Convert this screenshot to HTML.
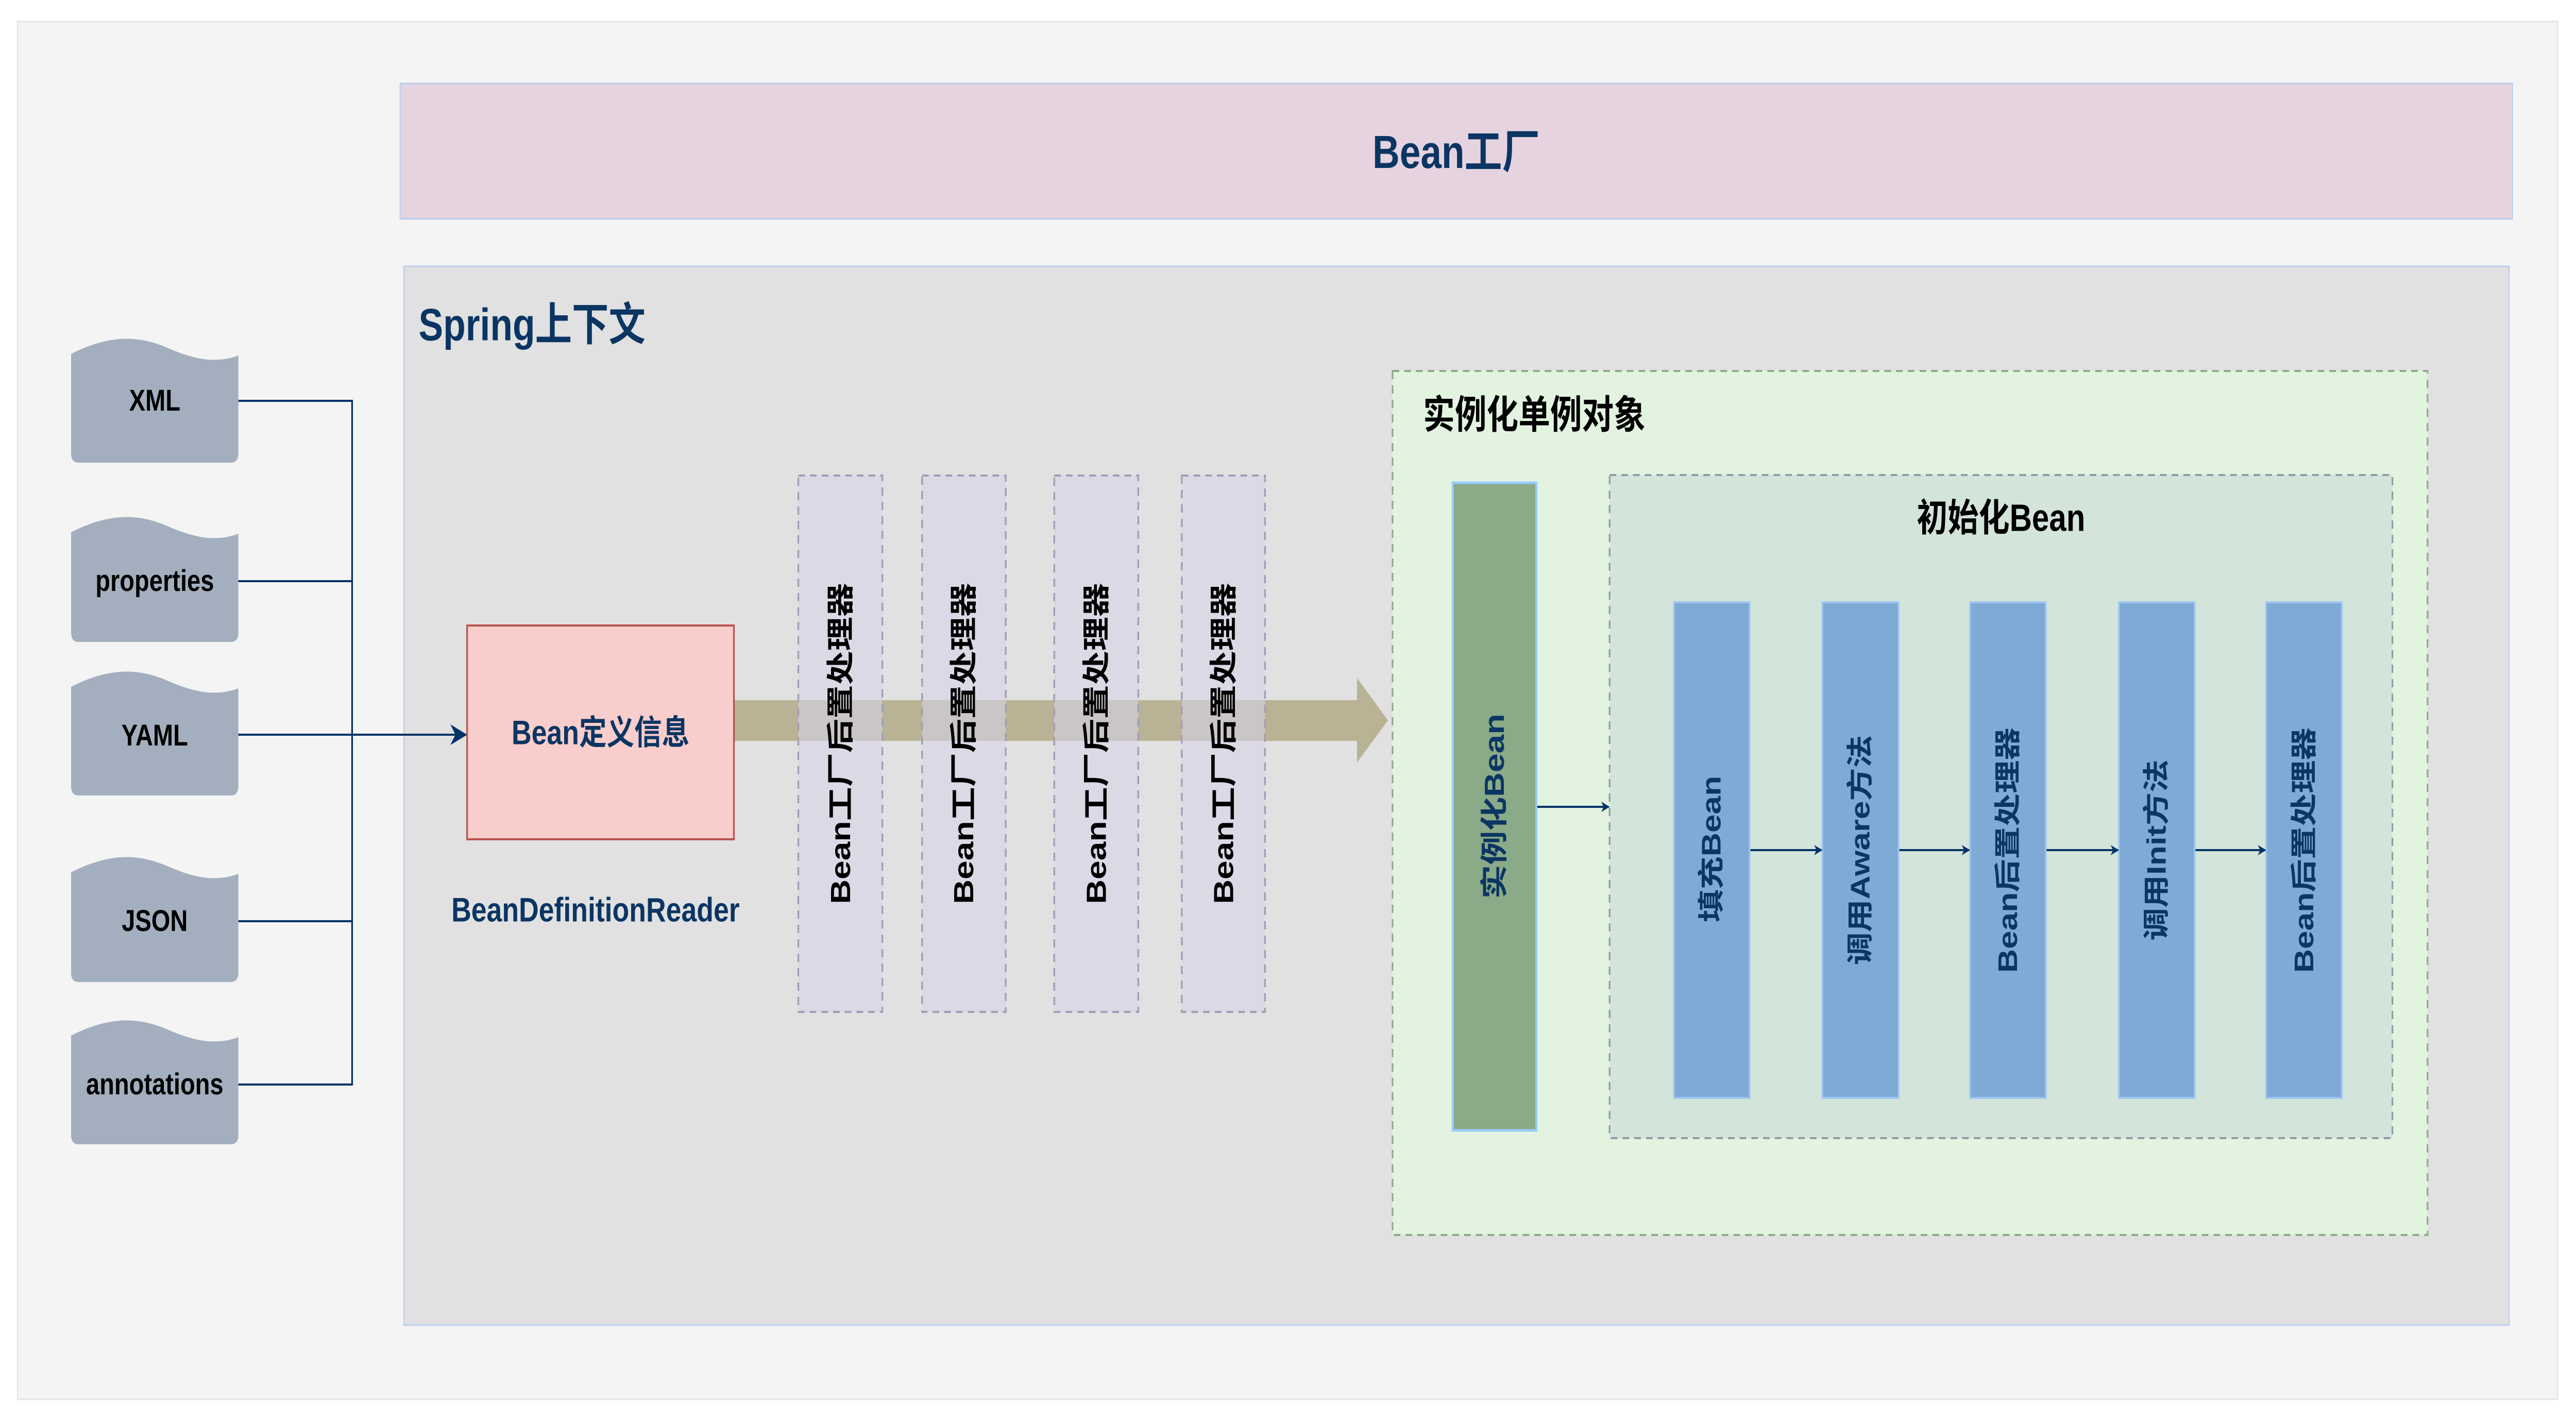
<!DOCTYPE html>
<html><head><meta charset="utf-8"><style>html,body{margin:0;padding:0;background:#fff;overflow:hidden;width:100%;height:100%}svg{display:block;width:100vw;height:100vh}text{font-family:"Liberation Sans","Noto Sans CJK SC",sans-serif;font-weight:bold}</style></head>
<body>
<svg viewBox="0 0 6160 2760" preserveAspectRatio="none" xmlns="http://www.w3.org/2000/svg">
<defs>
<marker id="ar" viewBox="0 0 20 20" refX="18" refY="10" markerWidth="20" markerHeight="20" markerUnits="userSpaceOnUse" orient="auto"><path d="M0,0 L20,10 L0,20 L6,10 Z" fill="#003366"/></marker>
<marker id="ar2" viewBox="0 0 40 40" refX="38" refY="20" markerWidth="40" markerHeight="40" markerUnits="userSpaceOnUse" orient="auto"><path d="M0,0 L40,20 L0,40 L12,20 Z" fill="#003366"/></marker>
</defs>
<rect x="42" y="42" width="6074" height="2674" fill="#f4f4f4" stroke="#e4e4ec" stroke-width="3"/>
<rect x="957" y="162" width="5051" height="263" fill="#e5d3df" stroke="#bcd0ec" stroke-width="3"/>
<text x="3482" y="296" font-size="90" fill="#0b3563" text-anchor="middle" dominant-baseline="central">Bean工厂</text>
<rect x="966" y="517" width="5034" height="2055" fill="#e1e1e1" stroke="#bcd0ec" stroke-width="3"/>
<text x="1001" y="630" font-size="88" fill="#0b3563" dominant-baseline="central">Spring上下文</text>

<g fill="#a3afbe">
<path d="M170,687 C260,650 330,650 400,675 C470,700 520,705 570,690 L570,880 Q570,898 552,898 L188,898 Q170,898 170,880 Z"/>
<path d="M170,1033 C260,996 330,996 400,1021 C470,1046 520,1051 570,1036 L570,1228 Q570,1246 552,1246 L188,1246 Q170,1246 170,1228 Z"/>
<path d="M170,1333 C260,1296 330,1296 400,1321 C470,1346 520,1351 570,1336 L570,1526 Q570,1544 552,1544 L188,1544 Q170,1544 170,1526 Z"/>
<path d="M170,1693 C260,1656 330,1656 400,1681 C470,1706 520,1711 570,1696 L570,1888 Q570,1906 552,1906 L188,1906 Q170,1906 170,1888 Z"/>
<path d="M170,2010 C260,1973 330,1973 400,1998 C470,2023 520,2028 570,2013 L570,2203 Q570,2221 552,2221 L188,2221 Q170,2221 170,2203 Z"/>
</g>
<g font-size="58" fill="#000" text-anchor="middle" dominant-baseline="central">
<text x="370" y="778">XML</text>
<text x="370" y="1128">properties</text>
<text x="370" y="1428">YAML</text>
<text x="370" y="1788">JSON</text>
<text x="370" y="2105">annotations</text>
</g>
<g stroke="#003366" stroke-width="4" fill="none">
<path d="M570,778 H842 V2105 H570"/>
<path d="M570,1128 H842"/>
<path d="M570,1788 H842"/>
<path d="M570,1426 H1115" marker-end="url(#ar2)"/>
</g>

<path d="M1755,1359 H3245 V1316 L3319,1398 L3245,1480 V1438 H1755 Z" fill="#b9b295"/>

<rect x="1117" y="1214" width="638" height="415" fill="#f8cdcb" stroke="#b85450" stroke-width="4"/>
<text x="1436" y="1422" font-size="66" fill="#0b3563" text-anchor="middle" dominant-baseline="central">Bean定义信息</text>
<text x="1424" y="1766" font-size="66" fill="#0b3563" text-anchor="middle" dominant-baseline="central">BeanDefinitionReader</text>

<g fill="#d5d3e8" fill-opacity="0.6" stroke="#a29cb4" stroke-width="4" stroke-dasharray="16,12">
<rect x="1909" y="923" width="201" height="1041"/>
<rect x="2205" y="923" width="200" height="1041"/>
<rect x="2521" y="923" width="201" height="1041"/>
<rect x="2826" y="923" width="199" height="1041"/>
</g>
<g font-size="66" fill="#000" text-anchor="middle" dominant-baseline="central">
<text transform="translate(2010,1443) rotate(-90)">Bean工厂后置处理器</text>
<text transform="translate(2305,1443) rotate(-90)">Bean工厂后置处理器</text>
<text transform="translate(2622,1443) rotate(-90)">Bean工厂后置处理器</text>
<text transform="translate(2926,1443) rotate(-90)">Bean工厂后置处理器</text>
</g>

<rect x="3330" y="720" width="2475" height="1677" fill="#e2f4e0" stroke="#8fab88" stroke-width="4" stroke-dasharray="16,12"/>
<text x="3403" y="805" font-size="76" fill="#000" dominant-baseline="central">实例化单例对象</text>
<rect x="3474" y="937" width="200" height="1257" fill="#8aaa88" stroke="#99ccff" stroke-width="5"/>
<text transform="translate(3574,1565) rotate(-90)" font-size="66" fill="#0b3563" text-anchor="middle" dominant-baseline="central">实例化Bean</text>
<rect x="3849" y="922" width="1872" height="1287" fill="#d3e4da" stroke="#8f9da5" stroke-width="4" stroke-dasharray="16,12"/>
<text x="4785" y="1006" font-size="74" fill="#000" text-anchor="middle" dominant-baseline="central">初始化Bean</text>
<line x1="3676" y1="1566" x2="3847" y2="1566" stroke="#003366" stroke-width="4" marker-end="url(#ar)"/>

<g fill="#80aad6" stroke="#9ec6f2" stroke-width="4">
<rect x="4003" y="1169" width="181" height="962"/>
<rect x="4358" y="1169" width="182" height="962"/>
<rect x="4711" y="1169" width="181" height="962"/>
<rect x="5067" y="1169" width="181" height="962"/>
<rect x="5419" y="1169" width="181" height="962"/>
</g>
<g stroke="#003366" stroke-width="4">
<line x1="4186" y1="1650" x2="4356" y2="1650" marker-end="url(#ar)"/>
<line x1="4542" y1="1650" x2="4709" y2="1650" marker-end="url(#ar)"/>
<line x1="4894" y1="1650" x2="5065" y2="1650" marker-end="url(#ar)"/>
<line x1="5250" y1="1650" x2="5417" y2="1650" marker-end="url(#ar)"/>
</g>
<g font-size="64" fill="#0b3563" text-anchor="middle" dominant-baseline="central">
<text transform="translate(4093,1648) rotate(-90)">填充Bean</text>
<text transform="translate(4449,1650) rotate(-90)">调用Aware方法</text>
<text transform="translate(4802,1650) rotate(-90)">Bean后置处理器</text>
<text transform="translate(5157,1650) rotate(-90)">调用Init方法</text>
<text transform="translate(5510,1650) rotate(-90)">Bean后置处理器</text>
</g>
</svg>
</body></html>
